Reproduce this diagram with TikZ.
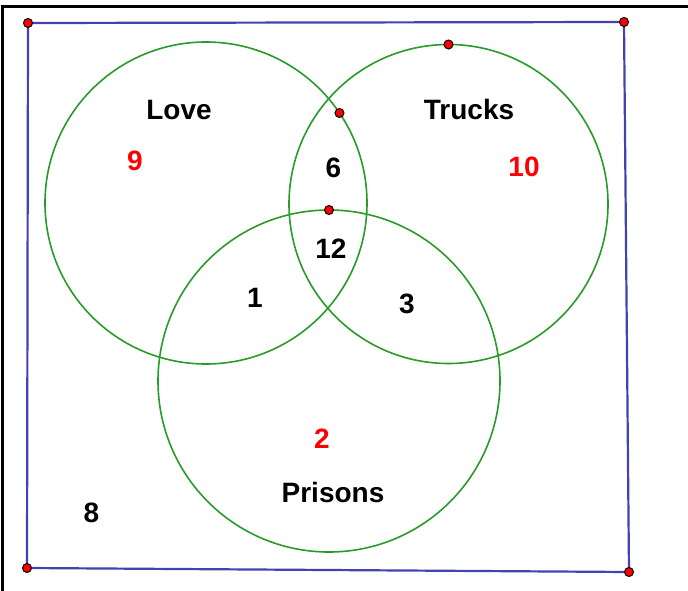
\documentclass[tikz,border=0pt]{standalone}
\usepackage{fontspec}
\setmainfont{Liberation Sans}
\definecolor{ringgreen}{RGB}{40,155,40}
\definecolor{boxblue}{RGB}{66,66,176}

\begin{document}
\begin{tikzpicture}[x=1pt, y=-1pt,
  ring/.style={draw=ringgreen, line width=1.6pt, circle, inner sep=0pt, outer sep=0pt},
  pt/.style={circle, draw=black, fill=red, line width=1pt, inner sep=0pt, minimum size=9pt},
  lbl/.style={font=\fontsize{28}{32}\selectfont\bfseries, anchor=base, inner sep=0pt},
  hot/.style={lbl, text=red}]

\useasboundingbox (0,0) rectangle (688,591);

% outer frame (top and left only)
\coordinate (fr0) at (0,7);
\coordinate (fr1) at (688,7);
\coordinate (fr2) at (2,591);
\draw[line width=3pt] (fr1) -- (fr0 -| fr2) -- (fr2);

% the three sets
\node[ring, minimum size=322pt] (love)    at (206,203) {};
\node[ring, minimum size=319pt] (trucks)  at (448.5,204) {};
\node[ring, minimum size=342pt] (prisons) at (329,381) {};

% universe
\coordinate (tl) at (28,23);
\coordinate (tr) at (624,22);
\coordinate (br) at (629,572);
\coordinate (bl) at (27,568);
\draw[boxblue, line width=2.2pt] (tl) -- (tr) -- (br) -- (bl) -- cycle;

% points
\foreach \p in {tl,tr,br,bl,trucks.north,prisons.north,love.34.4}
  \node[pt] at (\p) {};

% set names
\node[lbl] (nlove)    at (179,120) {Love};
\node[lbl] (ntrucks)  at (469,120) {Trucks};
\node[lbl] (nprisons) at (333,502) {Prisons};

% counts
\node[hot] (c9)  at (135,171) {9};
\node[hot] (c10) at (524,176) {10};
\node[hot] (c2)  at (322,448) {2};
\node[lbl] (c6)  at (333.5,177) {6};
\node[lbl] (c12) at (331,258) {12};
\node[lbl] (c1)  at (255,307) {1};
\node[lbl] (c3)  at (407,313) {3};
\node[lbl] (c8)  at (91.5,522) {8};
\end{tikzpicture}
\end{document}
